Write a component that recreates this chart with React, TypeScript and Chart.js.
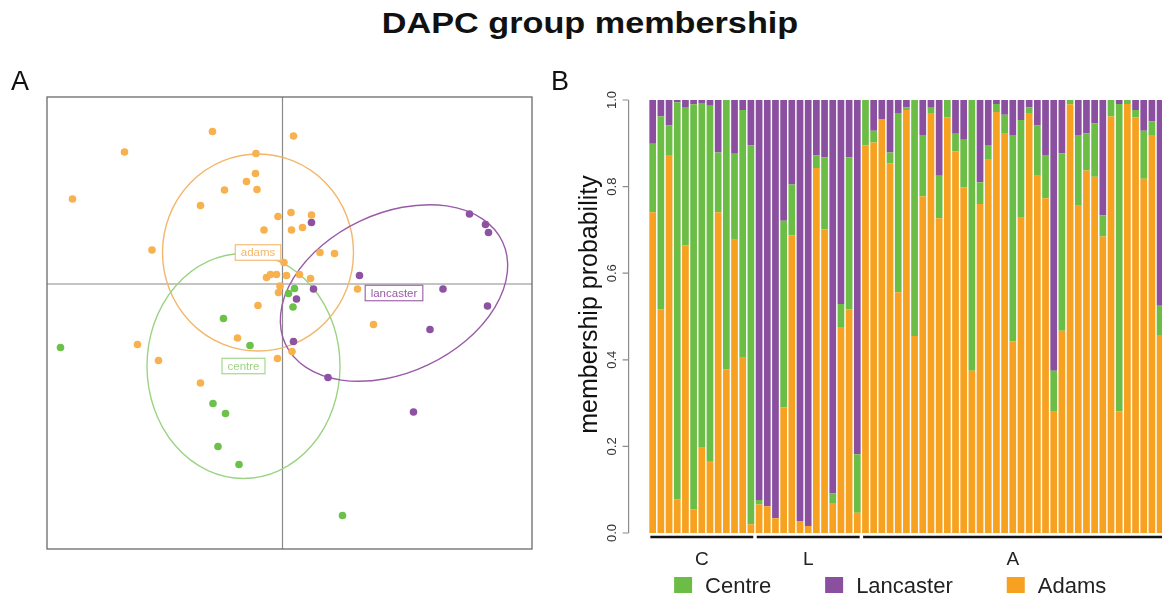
import React, { useEffect, useRef } from 'react';
import { Chart, registerables } from 'chart.js';

Chart.register(...registerables);

// ---------------- Panel B data (membership probabilities) ----------------
const groupNames = ['C', 'L', 'A'];
const groupSizes = [13, 13, 37];
const sampleIds: string[] = [];
groupNames.forEach((g, gi) => {
  for (let i = 1; i <= groupSizes[gi]; i++) sampleIds.push(g + i);
});

const adamsProb = [
  0.741, 0.517, 0.873, 0.078, 0.664, 0.055, 0.197, 0.166, 0.741, 0.378, 0.677, 0.405, 0.020,
  0.066, 0.062, 0.034, 0.290, 0.687, 0.028, 0.016, 0.843, 0.701, 0.069, 0.476, 0.516, 0.047,
  0.895, 0.902, 0.956, 0.854, 0.556, 0.977, 0.455, 0.778, 0.970, 0.727, 0.960, 0.881, 0.798,
  0.375, 0.760, 0.862, 0.972, 0.922, 0.442, 0.728, 0.970, 0.825, 0.773, 0.280, 0.467, 0.990,
  0.756, 0.837, 0.823, 0.685, 0.962, 0.281, 0.991, 0.960, 0.818, 0.919, 0.457,
];
const centreProb = [
  0.158, 0.445, 0.068, 0.917, 0.318, 0.935, 0.796, 0.821, 0.138, 0.622, 0.199, 0.572, 0.875,
  0.010, 0.000, 0.000, 0.431, 0.118, 0.000, 0.000, 0.029, 0.167, 0.022, 0.053, 0.352, 0.135,
  0.105, 0.027, 0.000, 0.025, 0.414, 0.006, 0.545, 0.141, 0.012, 0.098, 0.040, 0.041, 0.110,
  0.625, 0.050, 0.034, 0.019, 0.044, 0.477, 0.226, 0.013, 0.116, 0.100, 0.095, 0.410, 0.010,
  0.163, 0.086, 0.123, 0.049, 0.038, 0.710, 0.009, 0.017, 0.111, 0.032, 0.068,
];
const lancasterProb = [
  0.101, 0.038, 0.059, 0.005, 0.018, 0.010, 0.007, 0.013, 0.121, 0.000, 0.124, 0.023, 0.105,
  0.924, 0.938, 0.966, 0.279, 0.195, 0.972, 0.984, 0.128, 0.132, 0.909, 0.471, 0.132, 0.818,
  0.000, 0.071, 0.044, 0.121, 0.030, 0.017, 0.000, 0.081, 0.018, 0.175, 0.000, 0.078, 0.092,
  0.000, 0.190, 0.104, 0.009, 0.034, 0.081, 0.046, 0.017, 0.059, 0.127, 0.625, 0.123, 0.000,
  0.081, 0.077, 0.054, 0.266, 0.000, 0.009, 0.000, 0.023, 0.071, 0.049, 0.475,
];

const yTickValues = [0, 0.2, 0.4, 0.6, 0.8, 1.0];
const yTickLabels = ['0.0', '0.2', '0.4', '0.6', '0.8', '1.0'];
const yAxisTitle = 'membership probability';
const legendNames = ['Centre', 'Lancaster', 'Adams'];

// ---------------- Panel A data (DAPC scatter) ----------------
const adamsX = [-1.40, -3.16, -4.20, -0.53, -0.54, -0.72, -1.16, -0.51, -1.64, -0.09, -0.37, -2.61, 0.03,
  -0.32, -0.24, -0.12, 0.08, -0.05, -0.08, -0.49, -0.90, -2.90, -2.48, -0.10, -1.64, 0.22, 0.17, 0.58,
  0.18, 0.40, 0.75, 1.04, 0.34, 0.56, 1.50, 1.82, 0.19];
const adamsY = [3.05, 2.64, 1.70, 2.61, 2.21, 2.05, 1.88, 1.89, 1.57, 1.35, 1.08, 0.68, 0.43,
  0.13, 0.19, 0.19, 0.17, -0.04, -0.17, -0.43, -1.08, -1.21, -1.53, -1.49, -1.98, 2.96, 1.43, 1.38,
  1.08, 1.13, 0.63, 0.61, 0.19, 0.11, -0.10, -0.81, -1.35];
const centreX = [-1.18, -0.65, -4.44, -1.39, -1.14, -1.29, -0.87, 0.12, 0.24, 0.21, 1.20];
const centreY = [-0.69, -1.23, -1.27, -2.39, -2.59, -3.25, -3.61, -0.19, -0.09, -0.46, -4.63];
const lancX = [0.58, 1.54, 0.62, 0.28, 3.21, 3.74, 4.06, 4.12, 4.10, 2.95, 0.22, 0.91, 2.62];
const lancY = [1.23, 0.17, -0.10, -0.30, -0.10, 1.40, 1.19, 1.03, -0.44, -0.91, -1.15, -1.87, -2.56];

// inertia ellipses: centre, semi-axes, rotation (degrees, counter-clockwise)
const ellipseLabels = ['adams', 'centre', 'lancaster'];
const ellipseCx = [-0.49, -0.78, 2.23];
const ellipseCy = [0.63, -1.64, -0.18];
const ellipseRx = [1.91, 1.93, 2.40];
const ellipseRy = [1.97, 2.25, 1.59];
const ellipseAngle = [0, 0, 25.3];

const FONT = '"Liberation Sans", Arial, Helvetica, sans-serif';
const BAR_COL = { adams: '#f6a11f', centre: '#6bbd46', lancaster: '#8a509f' };
const DOT_COL = { adams: '#f8b14f', centre: '#6cc14a', lancaster: '#8d53a2' };
const ELL_COL = ['#f3b66b', '#9dd384', '#9a5aa8'];

const scatterDecor = {
  id: 'scatterDecor',
  beforeDatasetsDraw(chart: any) {
    const { ctx, chartArea: a, scales } = chart;
    const xs = scales.x, ys = scales.y;
    ctx.save();
    const x0 = xs.getPixelForValue(0);
    const y0 = ys.getPixelForValue(0);
    ctx.strokeStyle = '#8a8a8a';
    ctx.lineWidth = 1.2;
    ctx.beginPath();
    ctx.moveTo(x0, a.top); ctx.lineTo(x0, a.bottom);
    ctx.moveTo(a.left, y0); ctx.lineTo(a.right, y0);
    ctx.stroke();
    ctx.strokeStyle = '#6a6a6a';
    ctx.lineWidth = 1.3;
    ctx.strokeRect(a.left, a.top, a.right - a.left, a.bottom - a.top);
    ellipseLabels.forEach((_, i) => {
      const cx = xs.getPixelForValue(ellipseCx[i]);
      const cy = ys.getPixelForValue(ellipseCy[i]);
      const rx = Math.abs(xs.getPixelForValue(ellipseCx[i] + ellipseRx[i]) - cx);
      const ry = Math.abs(ys.getPixelForValue(ellipseCy[i] + ellipseRy[i]) - cy);
      ctx.beginPath();
      ctx.ellipse(cx, cy, rx, ry, -ellipseAngle[i] * Math.PI / 180, 0, Math.PI * 2);
      ctx.strokeStyle = ELL_COL[i];
      ctx.lineWidth = 1.4;
      ctx.stroke();
    });
    ctx.restore();
  },
  afterDatasetsDraw(chart: any) {
    const { ctx, scales } = chart;
    const xs = scales.x, ys = scales.y;
    ctx.save();
    ctx.font = '11.5px ' + FONT;
    ctx.textAlign = 'center';
    ctx.textBaseline = 'middle';
    ellipseLabels.forEach((lab, i) => {
      const cx = xs.getPixelForValue(ellipseCx[i]);
      const cy = ys.getPixelForValue(ellipseCy[i]);
      const w = ctx.measureText(lab).width + 11;
      const h = 15.5;
      ctx.fillStyle = '#ffffff';
      ctx.fillRect(cx - w / 2, cy - h / 2, w, h);
      ctx.strokeStyle = ELL_COL[i];
      ctx.lineWidth = 1.1;
      ctx.strokeRect(cx - w / 2, cy - h / 2, w, h);
      ctx.fillStyle = ELL_COL[i];
      ctx.fillText(lab, cx, cy + 0.5);
    });
    ctx.fillStyle = '#111';
    ctx.font = '27px ' + FONT;
    ctx.textAlign = 'left';
    ctx.textBaseline = 'alphabetic';
    ctx.fillText('A', 11, 90);
    ctx.restore();
  },
};

const barDecor = {
  id: 'barDecor',
  afterDatasetsDraw(chart: any) {
    const { ctx, chartArea: a, scales } = chart;
    const xs = scales.x, ys = scales.y;
    ctx.save();
    // y axis
    const axX = a.left - 20;
    const yTop = ys.getPixelForValue(1);
    const yBot = ys.getPixelForValue(0);
    ctx.strokeStyle = '#8c8c8c';
    ctx.lineWidth = 1.2;
    ctx.beginPath();
    ctx.moveTo(axX, yTop); ctx.lineTo(axX, yBot);
    yTickValues.forEach((v) => {
      const py = ys.getPixelForValue(v);
      ctx.moveTo(axX, py); ctx.lineTo(axX - 6, py);
    });
    ctx.stroke();
    ctx.fillStyle = '#333';
    ctx.font = '13px ' + FONT;
    ctx.textAlign = 'center';
    ctx.textBaseline = 'middle';
    yTickValues.forEach((v, i) => {
      const py = ys.getPixelForValue(v);
      ctx.save();
      ctx.translate(axX - 16, py);
      ctx.rotate(-Math.PI / 2);
      ctx.fillText(yTickLabels[i], 0, 0);
      ctx.restore();
    });
    ctx.fillStyle = '#111';
    ctx.font = '25px ' + FONT;
    ctx.save();
    ctx.translate(axX - 38, (yTop + yBot) / 2 - 12);
    ctx.rotate(-Math.PI / 2);
    ctx.fillText(yAxisTitle, 0, 0);
    ctx.restore();

    // group underlines and labels
    const pitch = xs.getPixelForValue(1) - xs.getPixelForValue(0);
    let start = 0;
    groupNames.forEach((g, gi) => {
      const end = start + groupSizes[gi] - 1;
      const x1 = xs.getPixelForValue(start) - pitch * 0.41 + 1;
      const x2 = xs.getPixelForValue(end) + pitch * 0.41 - 1;
      ctx.strokeStyle = '#111';
      ctx.lineWidth = 2.5;
      ctx.beginPath();
      ctx.moveTo(x1, yBot + 4); ctx.lineTo(x2, yBot + 4);
      ctx.stroke();
      ctx.fillStyle = '#222';
      ctx.font = '19px ' + FONT;
      ctx.textAlign = 'center';
      ctx.textBaseline = 'middle';
      ctx.fillText(g, (x1 + x2) / 2, yBot + 27);
      start = end + 1;
    });

    // legend
    const legCols = [BAR_COL.centre, BAR_COL.lancaster, BAR_COL.adams];
    let lx = a.left + 25.5;
    const ly = yBot + 44;
    ctx.font = '22px ' + FONT;
    ctx.textAlign = 'left';
    ctx.textBaseline = 'alphabetic';
    legendNames.forEach((name, i) => {
      ctx.fillStyle = legCols[i];
      ctx.fillRect(lx, ly, 18, 16);
      ctx.fillStyle = '#222';
      ctx.fillText(name, lx + 31, ly + 16);
      lx += 31 + ctx.measureText(name).width + 54;
    });

    // panel label
    ctx.fillStyle = '#111';
    ctx.font = '27px ' + FONT;
    ctx.fillText('B', 11, 90);
    ctx.restore();
  },
};

export default function App() {
  const refA = useRef<HTMLCanvasElement>(null);
  const refB = useRef<HTMLCanvasElement>(null);

  useEffect(() => {
    const pts = (xs: number[], ys: number[]) => xs.map((x, i) => ({ x, y: ys[i] }));
    const chartA = new Chart(refA.current as HTMLCanvasElement, {
      type: 'scatter',
      data: {
        datasets: [
          { label: 'adams', data: pts(adamsX, adamsY), backgroundColor: DOT_COL.adams, pointRadius: 3.8, borderWidth: 0 },
          { label: 'centre', data: pts(centreX, centreY), backgroundColor: DOT_COL.centre, pointRadius: 3.8, borderWidth: 0 },
          { label: 'lancaster', data: pts(lancX, lancY), backgroundColor: DOT_COL.lancaster, pointRadius: 3.8, borderWidth: 0 },
        ],
      },
      options: {
        animation: false,
        responsive: false,
        layout: { padding: { left: 47, top: 97, right: 8, bottom: 49 } },
        scales: {
          x: { type: 'linear', min: -4.71, max: 4.99, display: false },
          y: { type: 'linear', min: -5.30, max: 3.74, display: false },
        },
        plugins: { legend: { display: false }, tooltip: { enabled: false } },
      },
      plugins: [scatterDecor],
    } as any);

    const chartB = new Chart(refB.current as HTMLCanvasElement, {
      type: 'bar',
      data: {
        labels: sampleIds,
        datasets: [
          { label: 'Adams', data: adamsProb, backgroundColor: BAR_COL.adams },
          { label: 'Centre', data: centreProb, backgroundColor: BAR_COL.centre },
          { label: 'Lancaster', data: lancasterProb, backgroundColor: BAR_COL.lancaster },
        ],
      },
      options: {
        animation: false,
        responsive: false,
        layout: { padding: { left: 108.6, right: 5.8, top: 100, bottom: 65 } },
        datasets: { bar: { barPercentage: 0.82, categoryPercentage: 1, borderWidth: 0 } },
        scales: {
          x: { stacked: true, display: false },
          y: { stacked: true, min: 0, max: 1, display: false },
        },
        plugins: { legend: { display: false }, tooltip: { enabled: false } },
      },
      plugins: [barDecor],
    } as any);

    return () => {
      chartA.destroy();
      chartB.destroy();
    };
  }, []);

  return (
    <div style={{ position: 'fixed', left: 0, top: 0, width: 1162, height: 598, overflow: 'hidden', background: '#fff' }}>
      <div
        style={{
          position: 'absolute', left: 0, top: 9, width: 1180, textAlign: 'center',
          font: 'bold 29px ' + FONT, lineHeight: '29px', color: '#111',
          transform: 'scaleX(1.18)', transformOrigin: '590px 50%',
        }}
      >
        DAPC group membership
      </div>
      <canvas ref={refA} width={540} height={598} style={{ position: 'absolute', left: 0, top: 0, width: 540, height: 598 }} />
      <canvas ref={refB} width={630} height={598} style={{ position: 'absolute', left: 540, top: 0, width: 630, height: 598 }} />
    </div>
  );
}
